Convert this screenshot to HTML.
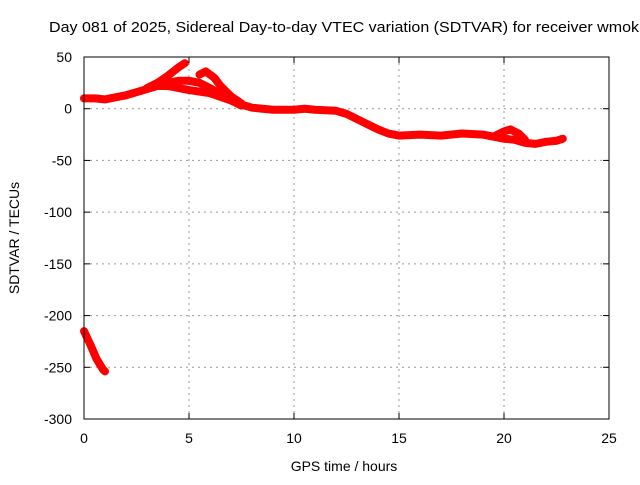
<!DOCTYPE html>
<html><head><meta charset="utf-8"><style>
body{margin:0;background:#fff;width:640px;height:480px;overflow:hidden}
svg text{font-family:"Liberation Sans",sans-serif;font-size:14px;fill:#000}
</style></head><body>
<svg id="chart" width="640" height="480">
<text x="49" y="32" textLength="590" lengthAdjust="spacingAndGlyphs" style="font-size:15px">Day 081 of 2025, Sidereal Day-to-day VTEC variation (SDTVAR) for receiver wmok</text>
<g id="grid"></g>
<g id="series"></g>
<rect x="84" y="57" width="525" height="362" fill="none" stroke="#000" stroke-width="1"/>
<g id="ticks"></g>
<text x="344" y="471" text-anchor="middle">GPS time / hours</text>
<text transform="translate(19,238) rotate(-90)" text-anchor="middle">SDTVAR / TECUs</text>
</svg>
<script>
const xTicks=[0,5,10,15,20,25];
const yTicks=[50,0,-50,-100,-150,-200,-250,-300];
const mainX=[0,0.5,1,1.5,2,2.5,3,3.5,4,4.5,5,5.5,6,6.5,7,7.5,8,8.5,9,10,10.5,11,12,12.5,13,13.5,14,14.5,15,16,17,18,19,19.5,20,20.5,21,21.5,22,22.5,22.8];
const mainY=[10,10,9,11,13,16,19,22,25,27,27,25,20,14,8,4,1,0,-1,-1,0,-1,-2,-5,-10,-15,-20,-24,-26,-25,-26,-24,-25,-27,-29,-30,-33,-34,-32,-31,-29];
const upX=[3,3.5,4,4.5,4.8];
const upY=[20,25,32,40,44];
const midX=[5.5,5.8,6.2,6.5,7,7.5];
const midY=[33,36,30,22,12,5];
const lowX=[3.5,4,5,6,7,7.5];
const lowY=[22,22,18,15,8,3];
const bumpX=[19.5,20,20.3,20.7,21];
const bumpY=[-27,-22,-20,-24,-30];
const tailX=[0,0.3,0.6,0.9,1.0];
const tailY=[-215,-228,-242,-252,-254];
const sx=v=>84+v*21, sy=v=>57+(50-v)*362/350;
const NS="http://www.w3.org/2000/svg";
const g=document.getElementById('grid'),t=document.getElementById('ticks'),s=document.getElementById('series');
function mk(tag,a,p){const e=document.createElementNS(NS,tag);for(const k in a)e.setAttribute(k,a[k]);p.appendChild(e);return e;}
xTicks.forEach(v=>{const x=sx(v);
 if(v>0&&v<25){const l=mk('line',{x1:x,x2:x,y1:57,y2:419,stroke:'#999','stroke-dasharray':'2,4'},g);
 
 }
 mk('line',{x1:x,x2:x,y1:419,y2:413,stroke:'#000'},t);mk('line',{x1:x,x2:x,y1:57,y2:63,stroke:'#000'},t);
 const tx=mk('text',{x:x,y:443,'text-anchor':'middle'},t);tx.textContent=v;
 
 });
yTicks.forEach(v=>{const y=sy(v);
 if(v<50&&v>-300){const l=mk('line',{x1:84,x2:609,y1:y,y2:y,stroke:'#999','stroke-dasharray':'2,4'},g);
 
 }
 mk('line',{x1:84,x2:90,y1:y,y2:y,stroke:'#000'},t);mk('line',{x1:609,x2:603,y1:y,y2:y,stroke:'#000'},t);
 const tx=mk('text',{x:72,y:y+5,'text-anchor':'end'},t);tx.textContent=v;
 
 });
function track(xs,ys,name){
 const pts=xs.map((x,i)=>sx(x)+','+sy(ys[i])).join(' ');
 const p=mk('polyline',{points:pts,fill:'none',stroke:'#f00','stroke-width':8,'stroke-linejoin':'round','stroke-linecap':'round'},s);
 
 
}
track(mainX,mainY,'series-main');
track(upX,upY,'series-upper-branch');
track(midX,midY,'series-middle-branch');
track(lowX,lowY,'series-lower-branch');
track(bumpX,bumpY,'series-bump');
track(tailX,tailY,'series-early-tail');
</script>
</body></html>
